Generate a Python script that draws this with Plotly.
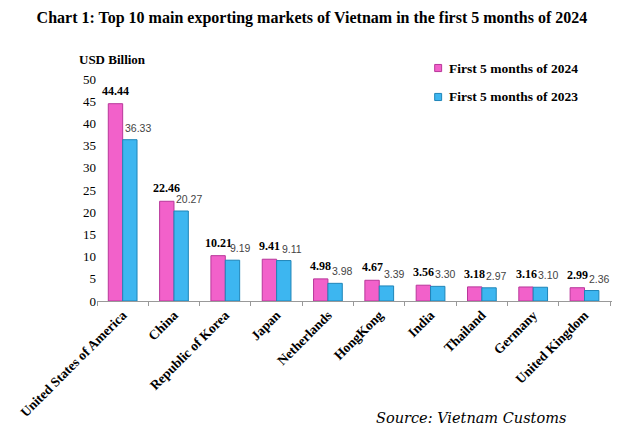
import plotly.graph_objects as go

categories = ["United States of America", "China", "Republic of Korea", "Japan",
              "Netherlands", "HongKong", "India", "Thailand", "Germany", "United Kingdom"]
values_2024 = [44.44, 22.46, 10.21, 9.41, 4.98, 4.67, 3.56, 3.18, 3.16, 2.99]
values_2023 = [36.33, 20.27, 9.19, 9.11, 3.98, 3.39, 3.30, 2.97, 3.10, 2.36]
y_ticks = [0, 5, 10, 15, 20, 25, 30, 35, 40, 45, 50]
series_names = ["First 5 months of 2024", "First 5 months of 2023"]

serif = "Liberation Serif, Times New Roman, serif"
sans = "Liberation Sans, Arial, sans-serif"
PINK, PINK_LINE = "#F261CA", "#B8379A"
BLUE, BLUE_LINE = "#3DB6F0", "#1F85B8"

fig = go.Figure()
fig.add_trace(go.Bar(name=series_names[0], x=categories, y=values_2024,
                     marker=dict(color=PINK, line=dict(color=PINK_LINE, width=1)),
                     showlegend=False))
fig.add_trace(go.Bar(name=series_names[1], x=categories, y=values_2023,
                     marker=dict(color=BLUE, line=dict(color=BLUE_LINE, width=1)),
                     showlegend=False))

# value labels
for c, v in zip(categories, values_2024):
    fig.add_annotation(x=c, y=v, text=f"<b>{v:.2f}</b>", showarrow=False,
                       xanchor="center", yanchor="bottom", xshift=-7, yshift=4,
                       font=dict(family=serif, size=12, color="black"))
for c, v in zip(categories, values_2023):
    fig.add_annotation(x=c, y=v, text=f"{v:.2f}", showarrow=False,
                       xanchor="center", yanchor="bottom", xshift=15, yshift=4,
                       font=dict(family=sans, size=10.5, color="#444444"))

fig.update_layout(
    width=614, height=435,
    margin=dict(l=87, r=10, t=71, b=142),
    paper_bgcolor="white", plot_bgcolor="white",
    barmode="group", bargap=0.44, bargroupgap=0,
    title=dict(text="<b>Chart 1: Top 10 main exporting markets of Vietnam in the first 5 months of 2024</b>",
               x=0.495, xanchor="center", y=0.979, yanchor="middle",
               font=dict(family=serif, size=16, color="black")),
    font=dict(family=serif, color="black"),
    showlegend=False,
)
fig.update_xaxes(showline=True, linecolor="#999999", linewidth=1,
                 ticks="outside", tickson="boundaries", ticklen=4, tickcolor="#999999",
                 tickangle=-45, tickfont=dict(family=serif, size=13.5, color="black", weight="bold"),
                 showgrid=False)
fig.update_yaxes(range=[0, 50], tickvals=y_ticks, showgrid=False, showline=False,
                 zeroline=False, ticks="", tickfont=dict(family=serif, size=13, color="black"))

# manual legend
legend_rows = [(series_names[0], PINK, PINK_LINE, 1.0495), (series_names[1], BLUE, BLUE_LINE, 0.919)]
for name, col, lc, yc in legend_rows:
    fig.add_shape(type="rect", xref="paper", yref="paper",
                  x0=0.6557, x1=0.6692, y0=yc - 0.016, y1=yc + 0.016,
                  fillcolor=col, line=dict(color=lc, width=1))
    fig.add_annotation(text=f"<b>{name}</b>", xref="paper", yref="paper",
                       x=0.679, y=yc, xanchor="left", yanchor="middle", showarrow=False,
                       font=dict(family=serif, size=13.5, color="black"))

fig.add_annotation(text="<b>USD Billion</b>", xref="paper", yref="paper",
                   x=-0.0387, y=1.09, xanchor="left", yanchor="middle", showarrow=False,
                   font=dict(family=serif, size=13, color="black"))
fig.add_annotation(text="Source: Vietnam Customs", xref="paper", yref="paper",
                   x=0.915, y=-0.527, xanchor="right", yanchor="middle", showarrow=False,
                   font=dict(family="DejaVu Serif", size=14.5, color="black", style="italic"))

fig.write_html("out.html")
